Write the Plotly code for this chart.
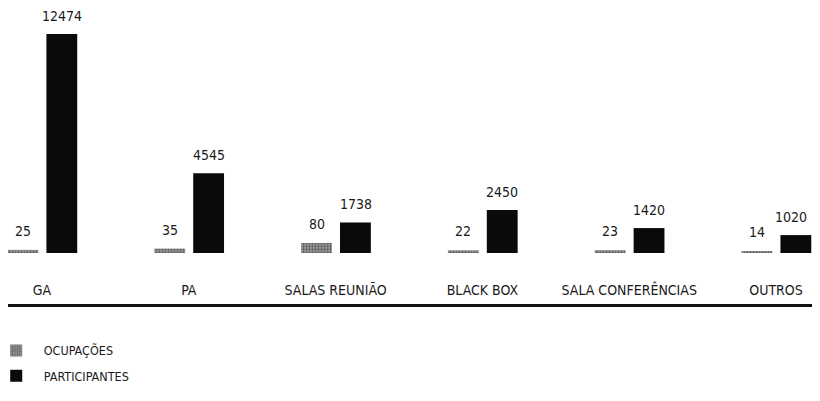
import plotly.graph_objects as go

categories = ["GA", "PA", "SALAS REUNIÃO", "BLACK BOX", "SALA CONFERÊNCIAS", "OUTROS"]
ocupacoes = [25, 35, 80, 22, 23, 14]
participantes = [12474, 4545, 1738, 2450, 1420, 1020]

FONT = "DejaVu Sans Condensed, DejaVu Sans, sans-serif"

fig = go.Figure()
fig.add_trace(go.Bar(
    x=categories, y=ocupacoes, name="OCUPAÇÕES", yaxis="y2",
    width=0.21, offset=-0.235,
    marker=dict(color="#8a8a8a", line=dict(width=0),
                pattern=dict(shape=".", fgcolor="#222", bgcolor="#9a9a9a", size=3, solidity=0.45)),
    legendgroup="a",
))
fig.add_trace(go.Bar(
    x=categories, y=participantes, name="PARTICIPANTES",
    width=0.21, offset=0.03,
    marker=dict(color="#0a0a0a", line=dict(width=0)),
    legendgroup="b",
))

annotations = []
for c, v in zip(categories, ocupacoes):
    annotations.append(dict(x=c, y=v, xref="x", yref="y2", text=str(v), showarrow=False,
                            xshift=-19, yshift=19, yanchor="middle",
                            font=dict(family=FONT, size=14, color="#1a1a1a")))
n = len(categories)
for i, (c, v) in enumerate(zip(categories, participantes)):
    annotations.append(dict(x=c, y=v, xref="x", yref="y", text=str(v), showarrow=False,
                            xshift=20 if i < n - 1 else 15, yshift=18, yanchor="middle",
                            font=dict(family=FONT, size=14, color="#1a1a1a")))

fig.update_layout(
    width=804, height=384,
    margin=dict(l=0, r=0, t=0, b=88, autoexpand=False),
    paper_bgcolor="white", plot_bgcolor="white",
    font=dict(family=FONT, size=14, color="#1a1a1a"),
    xaxis=dict(type="category", range=[-0.2316, 5.245], showgrid=False, zeroline=False,
               showline=True, linecolor="#111", linewidth=3,
               ticks="", ticklabelposition="inside", ticklabelstandoff=6,
               tickfont=dict(family=FONT, size=14, color="#1a1a1a")),
    yaxis=dict(range=[-2905, 13955], visible=False, showgrid=False, zeroline=False),
    yaxis2=dict(range=[-408, 1960], overlaying="y", visible=False, showgrid=False, zeroline=False),
    barmode="overlay",
    showlegend=True,
    legend=dict(orientation="v", x=-0.024, xanchor="left", y=-0.108, yanchor="top",
                font=dict(family=FONT, size=12.5, color="#1a1a1a"),
                itemwidth=45, tracegroupgap=6, bgcolor="rgba(0,0,0,0)"),
    annotations=annotations,
)

fig.write_html("out.html")
